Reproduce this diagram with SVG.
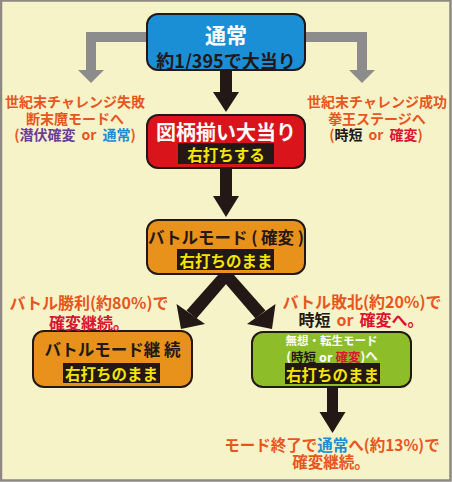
<svg xmlns="http://www.w3.org/2000/svg" width="452" height="482" viewBox="0 0 452 482">
<style>
text{font-family:"Noto Sans CJK JP","Noto Sans",sans-serif;font-weight:700;text-anchor:middle;dominant-baseline:central}
.node{stroke:#231815;stroke-width:2}
.blk{fill:#231815}
.yl{fill:#f3e600}
.dk{fill:#231815}
.wh{fill:#ffffff}
.or{fill:#e8561e}
.rd{fill:#dc1430}
.bl{fill:#1a8fd6}
.pu{fill:#6b3d98}
.gray{fill:none;stroke:#8c8c8c;stroke-width:10;stroke-linejoin:miter}
.gh{fill:#8c8c8c}
.ar{fill:#231815}
</style>
<rect x="1" y="0.5" width="449.5" height="480" fill="#f6f3c8" stroke="#8d8881" stroke-width="2.5"/>
<g id="connectors">
<path class="gray" d="M150 37 H91 V71"/>
<polygon class="gh" points="78,70 104,70 91,83"/>
<path class="gray" d="M302 37 H362 V71"/>
<polygon class="gh" points="349,70 375,70 362,83"/>
<rect class="ar" x="220" y="68" width="12" height="26"/>
<polygon class="ar" points="213,92 239,92 226,112"/>
<rect class="ar" x="220" y="166" width="12" height="32"/>
<polygon class="ar" points="213,196 239,196 226,217"/>
<polygon class="ar" points="226,266 233,276 196.5,318.5 186.5,310.5"/>
<polygon class="ar" points="176.5,304 205,324 181,329"/>
<polygon class="ar" points="226,266 219,276 255.5,318.5 265.5,310.5"/>
<polygon class="ar" points="275.5,304 247,324 272,329"/>
<rect class="ar" x="327" y="385" width="11" height="29"/>
<polygon class="ar" points="319.5,412 345.5,412 332.5,433"/>
</g>
<g id="node-normal">
<rect class="node" x="147" y="14" width="158" height="56" rx="11" fill="#1b8fd5"/>
<text x="226" y="34" font-size="21" class="wh">通常</text>
<text x="226" y="60" font-size="18" class="dk">約1/395で大当り</text>
</g>
<g id="node-bigwin">
<rect class="node" x="147" y="115" width="158" height="53" rx="11" fill="#d9141b"/>
<text x="226" y="131" font-size="20" class="wh">図柄揃い大当り</text>
<rect class="blk" x="178" y="143" width="96" height="21"/>
<text x="226" y="154" font-size="15.5" class="yl">右打ちする</text>
</g>
<g id="node-battle">
<rect class="node" x="147" y="220" width="158" height="54" rx="11" fill="#e8921c"/>
<text x="226" y="237" font-size="16.5" class="dk" xml:space="preserve">バトルモード ( 確変 )</text>
<rect class="blk" x="177" y="249" width="97" height="21"/>
<text x="226" y="259.5" font-size="15.5" class="yl">右打ちのまま</text>
</g>
<g id="node-battle-continue">
<rect class="node" x="33" y="331" width="159" height="56" rx="11" fill="#e8921c"/>
<text x="112.5" y="349" font-size="16.5" class="dk">バトルモード継 続</text>
<rect class="blk" x="63" y="363" width="97" height="20"/>
<text x="111.5" y="373" font-size="15.5" class="yl">右打ちのまま</text>
</g>
<g id="node-muso">
<rect class="node" x="252" y="332" width="159" height="55" rx="11" fill="#8dbe2a"/>
<text x="331.5" y="340" font-size="11.5" class="wh">無想・転生モード</text>
<text x="332" y="355.5" font-size="12.5" class="wh">(<tspan class="dk">時短</tspan><tspan dx="3">or</tspan><tspan dx="3" class="rd">確変</tspan>)へ</text>
<rect class="blk" x="285" y="363" width="95" height="21"/>
<text x="332.5" y="373.5" font-size="15.5" class="yl">右打ちのまま</text>
</g>
<g id="label-fail">
<text x="75" y="101" font-size="14" class="or">世紀末チャレンジ失敗</text>
<text x="75" y="117.5" font-size="14" class="or">断末魔モードへ</text>
<text x="75" y="134" font-size="14" class="or">(<tspan class="pu">潜伏確変</tspan><tspan dx="6">or</tspan><tspan dx="6" class="bl">通常</tspan>)</text>
</g>
<g id="label-success">
<text x="377" y="101" font-size="14" class="or">世紀末チャレンジ成功</text>
<text x="377" y="117.5" font-size="14" class="or">拳王ステージへ</text>
<text x="376" y="134" font-size="14" class="or">(<tspan class="dk">時短</tspan><tspan dx="6">or</tspan><tspan dx="6" class="rd">確変</tspan>)</text>
</g>
<g id="label-win">
<text x="89" y="301.5" font-size="16" class="or">バトル勝利(約80%)で</text>
<text x="89" y="321.5" font-size="16" class="rd">確変継続。</text>
</g>
<g id="label-lose">
<text x="362" y="301" font-size="16" class="or">バトル敗北(約20%)で</text>
<text x="361" y="318.5" font-size="16" class="dk">時短<tspan dx="6" class="or">or</tspan><tspan dx="6" class="rd">確変へ。</tspan></text>
</g>
<g id="label-end">
<text x="332" y="444" font-size="15.5" class="or">モード終了で<tspan class="bl">通常</tspan>へ(約13%)で</text>
<text x="331" y="461" font-size="15.5" class="or">確変継続。</text>
</g>
</svg>
